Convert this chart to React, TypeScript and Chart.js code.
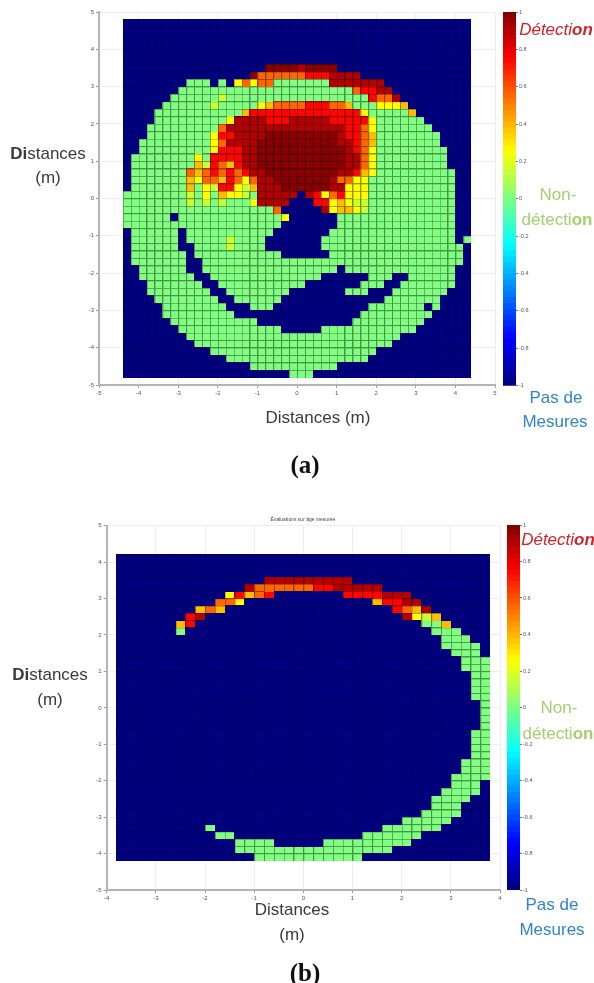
import React, { useEffect, useRef } from "react";
import { Chart, registerables } from "chart.js";

Chart.register(...registerables);

// ---- data -------------------------------------------------------------
const cellLevels: Record<string, number> = { g: 0, l: 0.15, y: 0.25, a: 0.38, o: 0.55, r: 0.74, R: 0.9, D: 0.98 };

// each row (top to bottom): "firstCol-lastCol level" runs; everything else is -1 (no measure)
const rowsA: string[] = [
  "", "", "", "", "", "",
  "18-21D 22R 23-26D",
  "16D 17-22o 23-25r 26-29R",
  "8-10g 12g 14y 15o 16y 17-18o 19-25g 26-32R",
  "7-28g 29o 30-31r 32-33R",
  "6-11g 12l 13-30g 31r 32-33o 34R",
  "5-10g 11l 12-16g 17y 18a 19-22o 23-25r 26-27o 28a 29-31g 32-34y 35a",
  "4-14g 15a 16-29r 30y 31-35g 36a",
  "4-12g 13y 14-17R 18-20r 21-25R 26-30r 31y 32-37g",
  "3-11g 12o 13-27R 28-29r 30o 31y 32-38g",
  "3-10g 11y 12-13r 14-17R 18-26D 27R 28-29r 30o 31a 32-39g",
  "2-10g 11y 12o 13-16R 17-26D 27-28R 29r 30o 31a 32-39g",
  "2-10g 11y 12-14r 15-16R 17-27D 28R 29r 30o 31y 32-40g",
  "1-8g 9y 10g 11-14r 15-16R 17-27D 28-29R 30o 31y 32-40g",
  "1-8g 9a 10l 11r 12o 13a 14r 15-16R 17-27D 28-29R 30o 31y 32-40g",
  "1-7g 8o 9a 10o 11r 12o 13r 14o 15r 16-17R 18-26D 27-28R 29r 30a 31y 32-41g",
  "1-7g 8a 9y 10-11o 12a 13r 14o 15y 16o 17-18R 19-25D 26R 27-28o 29-30y 31-41g",
  "1-7g 8a 9g 10y 11l 12-13r 14y 15l 16a 17-19R 20-25D 26-27R 28-30y 31-41g",
  "0-7g 8l 9g 10y 11g 12a 13-14y 15l 16g 17-21R 23R 24r 25y 26o 27r 28-30y 31-41g",
  "0-7g 8l 9g 10l 11g 12l 13-15g 16y 17-20R 24-25r 26y 27a 28y 29-30l 31-41g",
  "0-18g 19o 25R 26y 27a 28a 29y 30l 31-41g",
  "0-5g 7-19g 20y 27-41g",
  "0-19g 27-41g",
  "1-6g 8-18g 26-41g",
  "1-6g 8-12g 13l 14-17g 25-41g 43g",
  "1-6g 9-12g 13l 14-17g 25-42g",
  "1-7g 9-19g 26-42g",
  "1-7g 10-42g",
  "2-7g 10-26g 28-41g",
  "2-8g 11-24g 31-33g 36-41g",
  "3-9g 12-22g 30-32g 35-41g",
  "3-10g 13-20g 28-30g 34-40g",
  "4-11g 14-19g 33-39g",
  "5-12g 16-18g 31-37g 39g",
  "5-13g 30-38g",
  "6-16g 29-37g",
  "7-19g 25-36g",
  "8-34g",
  "9-33g",
  "11-31g",
  "13-30g",
  "16-26g",
  "21-23g",
];

const rowsB: string[] = [
  "", "", "",
  "15-23R",
  "13R 14-19o 20-21r 22-26R",
  "11y 12r 13a 14o 15r 23-26r 27-29R",
  "10-11o 12y 26a 27-28r 29-30R",
  "8a 9o 10a 28r 29o 30a 31R",
  "7r 8R 29R 30y 31l 32a",
  "6a 7r 31-32g 33a",
  "6g 32-34g",
  "33-35g",
  "33-36g",
  "34-36g",
  "35-37g",
  "35-37g",
  "36-37g",
  "36-37g",
  "36-37g",
  "36-37g",
  "37g",
  "37g",
  "37g",
  "37g",
  "36-37g",
  "36-37g",
  "36-37g",
  "36-37g",
  "35-37g",
  "35-37g",
  "34-37g",
  "34-36g",
  "33-36g",
  "32-35g",
  "32-34g",
  "31-34g",
  "29-33g",
  "9g 27-32g",
  "10-11g 25-30g",
  "12-15g 21-29g",
  "12-27g",
  "14-24g",
];

const cellSize = 0.2;
const gridLeftA = -4.4;
const gridTopA = 4.8;
const gridLeftB = -3.8;
const gridTopB = 4.2;
const colCountA = 44;
const colCountB = 38;

const axisTicksA = [-5, -4, -3, -2, -1, 0, 1, 2, 3, 4, 5];
const xTicksB = [-4, -3, -2, -1, 0, 1, 2, 3, 4];
const yTicksB = [-5, -4, -3, -2, -1, 0, 1, 2, 3, 4, 5];
const colorbarTicks = [-1, -0.8, -0.6, -0.4, -0.2, 0, 0.2, 0.4, 0.6, 0.8, 1];
const colorbarEdges = [
  -1, -0.969, -0.938, -0.906, -0.875, -0.844, -0.813, -0.781, -0.75, -0.719, -0.688, -0.656, -0.625, -0.594, -0.563,
  -0.531, -0.5, -0.469, -0.438, -0.406, -0.375, -0.344, -0.313, -0.281, -0.25, -0.219, -0.188, -0.156, -0.125, -0.094,
  -0.063, -0.031, 0, 0.031, 0.063, 0.094, 0.125, 0.156, 0.188, 0.219, 0.25, 0.281, 0.313, 0.344, 0.375, 0.406, 0.438,
  0.469, 0.5, 0.531, 0.563, 0.594, 0.625, 0.656, 0.688, 0.719, 0.75, 0.781, 0.813, 0.844, 0.875, 0.906, 0.938, 0.969, 1,
];

// ---- helpers ----------------------------------------------------------
const clamp = (v: number) => Math.max(0, Math.min(1, v));
function jet(v: number): string {
  const t = (v + 1) / 2;
  const r = clamp(1.5 - Math.abs(4 * t - 3));
  const g = clamp(1.5 - Math.abs(4 * t - 2));
  const b = clamp(1.5 - Math.abs(4 * t - 1));
  return `rgb(${Math.round(r * 255)},${Math.round(g * 255)},${Math.round(b * 255)})`;
}

function decode(rows: string[], colCount: number, left: number, top: number) {
  const groups = new Map<number, { x: number; y: number }[]>();
  rows.forEach((row, r) => {
    const cols: number[] = new Array(colCount).fill(-1);
    row.split(" ").filter(Boolean).forEach((seg) => {
      const m = seg.match(/^(\d+)(?:-(\d+))?([a-zA-Z])$/)!;
      const a = +m[1];
      const b = m[2] ? +m[2] : a;
      for (let c = a; c <= b; c++) cols[c] = cellLevels[m[3]];
    });
    cols.forEach((v, c) => {
      if (!groups.has(v)) groups.set(v, []);
      groups.get(v)!.push({
        x: left + cellSize * (c + 0.5),
        y: top - cellSize * (r + 0.5),
      });
    });
  });
  return groups;
}

function cellImage(color: string, w: number, h: number, edge: number) {
  const cv = document.createElement("canvas");
  cv.width = w;
  cv.height = h;
  const c = cv.getContext("2d")!;
  c.fillStyle = color;
  c.fillRect(0, 0, w, h);
  c.fillStyle = `rgba(0,0,0,${edge})`;
  c.fillRect(0, 0, w, 1);
  c.fillRect(0, 1, 1, h - 1);
  return cv;
}

const tickFont = { size: 6, family: "Liberation Sans" };

function fixedTicks(values: number[]) {
  return (scale: any) => {
    scale.ticks = values.map((value) => ({ value }));
  };
}

function makeHeatmap(
  canvas: HTMLCanvasElement,
  rows: string[],
  colCount: number,
  left: number,
  top: number,
  xr: [number, number],
  xTicks: number[],
  yTicks: number[],
  yWidth: number,
  padTop: number,
  xHeight: number,
  padRight: number,
  cellW: number,
  cellH: number
) {
  const groups = decode(rows, colCount, left, top);
  const datasets = [...groups.entries()].map(([v, data]) => ({
    label: String(v),
    data,
    showLine: false,
    pointRadius: 4,
    pointStyle: cellImage(jet(v), cellW, cellH, v < 0 ? 0.22 : 0.42),
  }));
  return new Chart(canvas, {
    type: "scatter",
    data: { datasets },
    options: {
      responsive: false,
      animation: false,
      events: [],
      layout: { padding: { top: padTop, right: padRight, left: 0, bottom: 0 } },
      plugins: { legend: { display: false }, tooltip: { enabled: false } },
      scales: {
        x: {
          type: "linear",
          min: xr[0],
          max: xr[1],
          afterBuildTicks: fixedTicks(xTicks),
          afterFit: (s: any) => { s.height = xHeight; },
          ticks: { font: tickFont, color: "#555", padding: 2, maxRotation: 0 },
          border: { color: "#b4b4b4", width: 2 },
          grid: { color: "#eeeeee", tickColor: "#999", tickLength: 3, lineWidth: 1 },
        },
        y: {
          type: "linear",
          min: -5,
          max: 5,
          afterBuildTicks: fixedTicks(yTicks),
          afterFit: (s: any) => { s.width = yWidth; },
          ticks: { font: tickFont, color: "#555", padding: 2 },
          border: { color: "#b4b4b4", width: 2 },
          grid: { color: "#eeeeee", tickColor: "#999", tickLength: 3, lineWidth: 1 },
        },
      },
    } as any,
  });
}

function makeColorbar(canvas: HTMLCanvasElement, padTop: number, padBottom: number, padLeft: number) {
  const datasets = colorbarEdges.slice(0, -1).map((lo, i) => ({
    label: String(lo),
    data: [[lo, colorbarEdges[i + 1] + 0.004]],
    backgroundColor: jet((lo + colorbarEdges[i + 1]) / 2),
    borderWidth: 0,
    barPercentage: 1,
    categoryPercentage: 1,
    grouped: false,
  }));
  return new Chart(canvas, {
    type: "bar",
    data: { labels: [""], datasets },
    options: {
      responsive: false,
      animation: false,
      events: [],
      layout: { padding: { top: padTop, bottom: padBottom, left: padLeft, right: 0 } },
      plugins: { legend: { display: false }, tooltip: { enabled: false } },
      scales: {
        x: { display: false },
        y: {
          position: "right",
          min: -1,
          max: 1,
          afterBuildTicks: fixedTicks(colorbarTicks),
          afterFit: (s: any) => { s.width = 29; },
          ticks: {
            font: { size: 5.5, family: "Liberation Sans" },
            color: "#555",
            padding: 1,
            callback: (v: any) => String(v),
          },
          border: { display: false },
          grid: { drawOnChartArea: false, tickColor: "#777", tickLength: 2 },
        },
      },
    } as any,
  });
}

// ---- layout -----------------------------------------------------------
const blur = "blur(0.55px)";
const sans = "'Liberation Sans', Arial, sans-serif";
const serif = "'Liberation Serif', 'Times New Roman', serif";

type TP = { x: number; y: number; size: number; color: string; children: React.ReactNode; style?: React.CSSProperties };
function T({ x, y, size, color, children, style }: TP) {
  return (
    <div
      style={{
        position: "absolute",
        left: x,
        top: y,
        transform: "translate(-50%, -50%)",
        fontFamily: sans,
        fontSize: size,
        color,
        whiteSpace: "nowrap",
        lineHeight: 1,
        filter: "blur(0.35px)",
        ...style,
      }}
    >
      {children}
    </div>
  );
}

const red = "#d2232a";
const green = "#a3d06c";
const blue = "#2f84cc";
const ink = "#3a3a3a";

export default function App() {
  const a = useRef<HTMLCanvasElement>(null);
  const b = useRef<HTMLCanvasElement>(null);
  const ca = useRef<HTMLCanvasElement>(null);
  const cb = useRef<HTMLCanvasElement>(null);
  useEffect(() => {
    const charts = [
      makeHeatmap(a.current!, rowsA, colCountA, gridLeftA, gridTopA, [-5, 5], axisTicksA, axisTicksA, 29, 12, 25, 10, 8, 8),
      makeHeatmap(b.current!, rowsB, colCountB, gridLeftB, gridTopB, [-4, 4], xTicksB, yTicksB, 28.7, 10.7, 25, 10, 10, 8),
      makeColorbar(ca.current!, 12, 14.3, 8),
      makeColorbar(cb.current!, 10, 15, 8),
    ];
    return () => charts.forEach((c) => c.destroy());
  }, []);
  const cv = (left: number, top: number): React.CSSProperties => ({ position: "absolute", left, top, filter: blur });
  return (
    <div style={{ position: "absolute", left: 0, top: 0, width: 594, height: 983, background: "#fff", overflow: "hidden" }}>
      <canvas ref={a} width={435} height={410} style={cv(70, 0)} />
      <canvas ref={ca} width={50} height={400} style={cv(495, 0)} />
      <canvas ref={b} width={432} height={400} style={cv(78, 515)} />
      <canvas ref={cb} width={50} height={390} style={cv(499, 515)} />

      <T x={48} y={153} size={17} color={ink}><b>Di</b>stances</T>
      <T x={48} y={177} size={17} color={ink}>(m)</T>
      <T x={318} y={417} size={17} color={ink}>Distances (m)</T>
      <T x={305} y={464} size={25} color="#111" style={{ fontFamily: serif, fontWeight: 700 }}>(a)</T>
      <T x={556} y={29} size={17} color={red} style={{ fontStyle: "italic" }}>Détecti<b>on</b></T>
      <T x={558} y={194} size={17} color={green}>Non-</T>
      <T x={557} y={219} size={17} color={green}>détecti<b>on</b></T>
      <T x={556} y={397} size={17} color={blue}>Pas de</T>
      <T x={555} y={421} size={17} color={blue}>Mesures</T>

      <T x={303} y={519} size={5} color="#444">Évaluations sur âge mesurée</T>
      <T x={50} y={674} size={17} color={ink}><b>Di</b>stances</T>
      <T x={50} y={699} size={17} color={ink}>(m)</T>
      <T x={292} y={909} size={17} color={ink}>Distances</T>
      <T x={292} y={934} size={17} color={ink}>(m)</T>
      <T x={305} y={972} size={25} color="#111" style={{ fontFamily: serif, fontWeight: 700 }}>(b)</T>
      <T x={558} y={539} size={17} color={red} style={{ fontStyle: "italic" }}>Détecti<b>on</b></T>
      <T x={559} y={707} size={17} color={green}>Non-</T>
      <T x={558} y={733} size={17} color={green}>détecti<b>on</b></T>
      <T x={552} y={904} size={17} color={blue}>Pas de</T>
      <T x={552} y={929} size={17} color={blue}>Mesures</T>
    </div>
  );
}
